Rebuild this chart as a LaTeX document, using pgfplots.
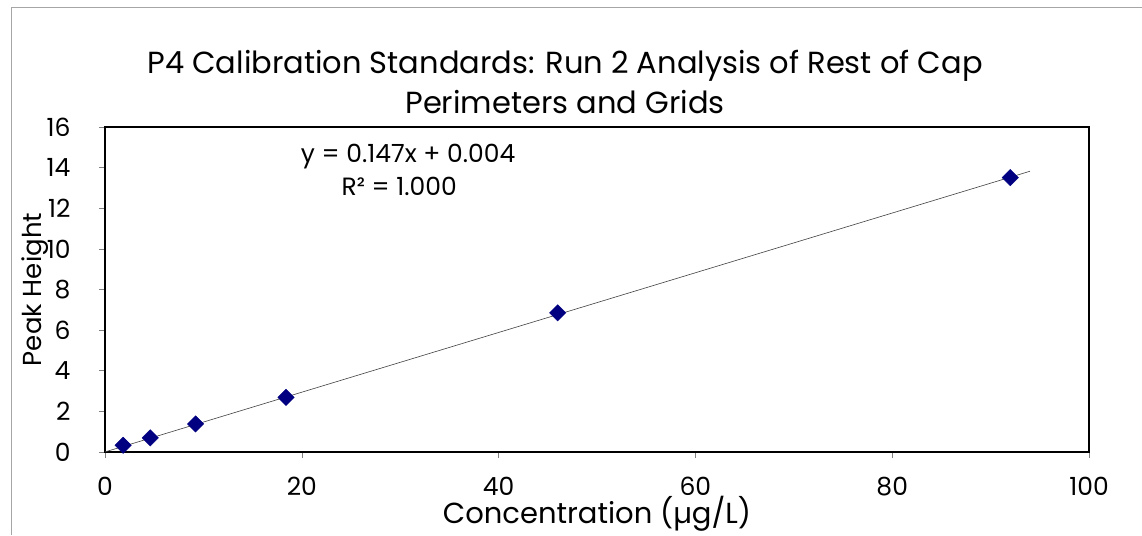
\documentclass[border=0pt]{standalone}
\usepackage{fontspec}
\setmainfont{Poppins}
\usepackage{pgfplots}
\pgfplotsset{compat=1.18}
\definecolor{navy}{RGB}{0,0,128}

\begin{document}
\begin{tikzpicture}[x=1pt,y=1pt]
\useasboundingbox (0,0) rectangle (1142,535);
% chart area frame (only left and top visible)
\draw[gray!70, line width=0.8pt] (11,0) -- (11,528) -- (1142,528);
\node[font=\fontsize{30.5}{35}\selectfont, align=center] at (565,453.5)
    {P4 Calibration Standards: Run 2 Analysis of Rest of Cap\\[5pt]Perimeters and Grids};
\begin{axis}[
    at={(105pt,83pt)}, anchor=south west,
    scale only axis,
    width=984pt, height=325pt,
    xmin=0, xmax=100, ymin=0, ymax=16,
    xtick={0,20,...,100}, ytick={0,2,...,16},
    axis line style={line width=1.6pt},
    tick align=outside,
    tick style={gray, line width=0.6pt, major tick length=6pt},
    xtick pos=bottom, ytick pos=left,
    ticklabel style={font=\fontsize{25}{30}\selectfont},
    /pgf/number format/assume math mode=true,
    xticklabel style={yshift=-16pt},
    yticklabel style={xshift=-25pt},
    xlabel={Concentration (µg/L)},
    ylabel={Peak Height},
    xlabel style={font=\fontsize{29}{34}\selectfont, at={(axis description cs:0.5,-0.1908)}, anchor=center},
    ylabel style={font=\fontsize{26}{30}\selectfont, at={(axis description cs:-0.0711,0.5)}, anchor=center},
    clip=false,
]
\addplot[black!75, line width=0.6pt] coordinates {(0,0.004) (94,13.822)};
\addplot[only marks, mark=square*, mark size=5.8pt, mark options={rotate=45, fill=navy, draw=navy}]
    coordinates {(1.84,0.33) (4.6,0.70) (9.2,1.38) (18.4,2.69) (46,6.85) (92,13.51)};
\node[font=\fontsize{25}{30}\selectfont] at (axis cs:30.8,14.55) {y = 0.147x + 0.004};
\node[font=\fontsize{25}{30}\selectfont] at (axis cs:29.9,13.1) {R² = 1.000};
\end{axis}
\end{tikzpicture}
\end{document}
